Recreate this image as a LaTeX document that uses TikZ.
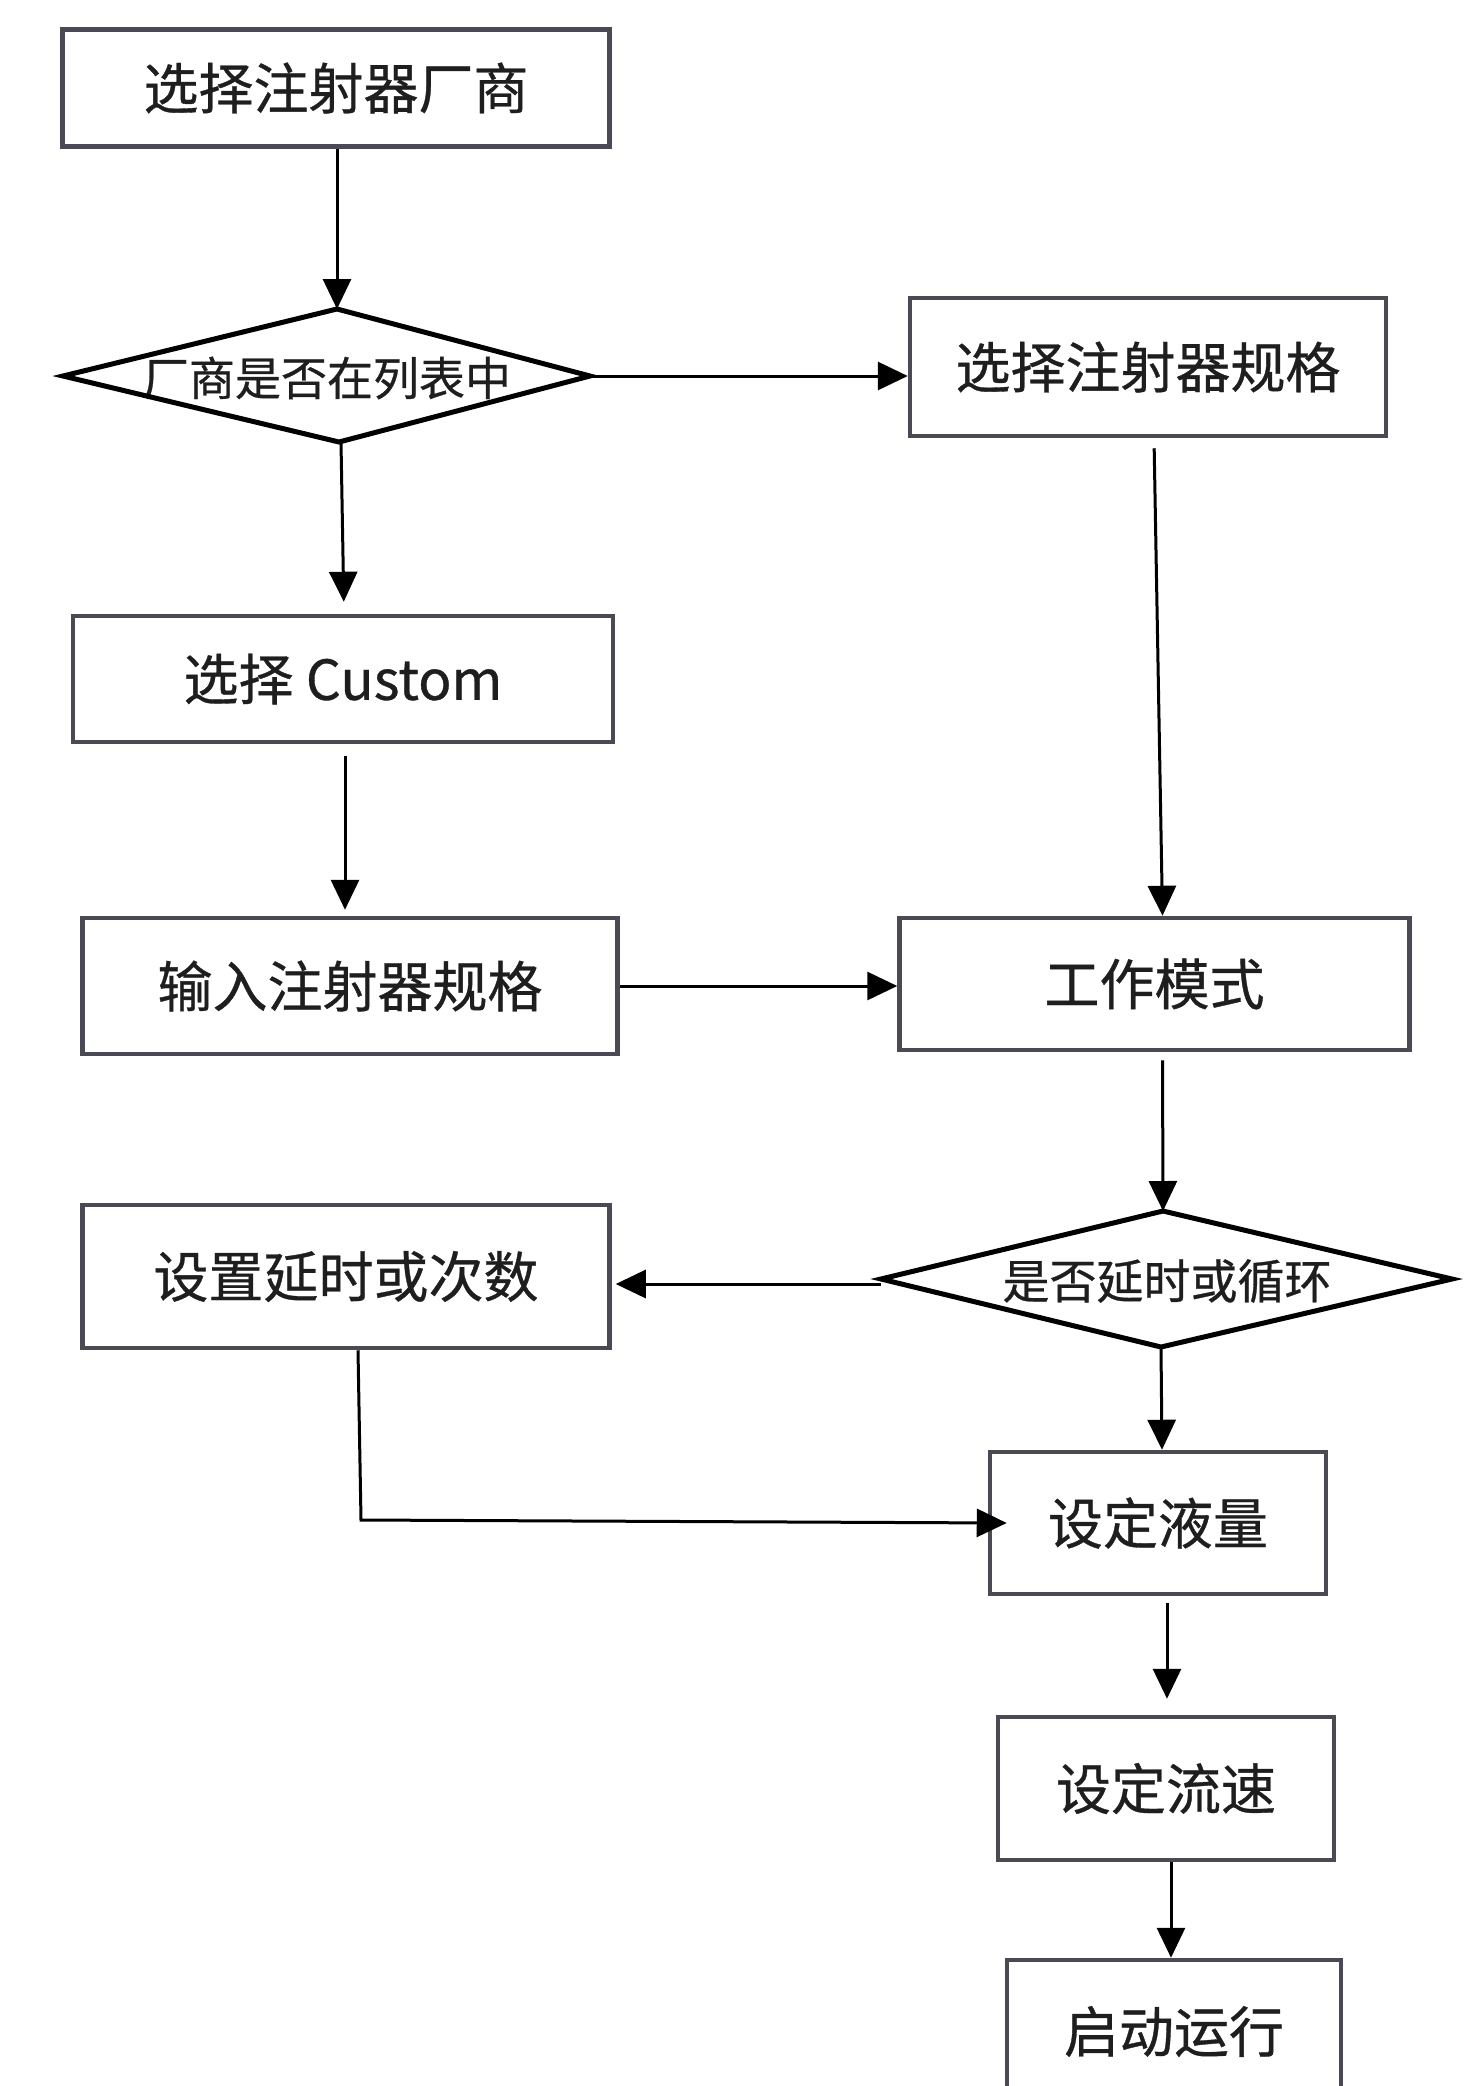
\documentclass[tikz,border=0pt]{standalone}
\usepackage{fontspec}
\newfontfamily\cjk[FakeBold=0.6]{Noto Sans CJK SC}
\usetikzlibrary{arrows.meta,calc}
\definecolor{boxc}{HTML}{4A4A55}
\definecolor{txt}{HTML}{1E1E1E}
\begin{document}
\begin{tikzpicture}[x=1pt,y=-1pt,
  box/.style={draw=boxc,line width=4.5pt,fill=white,inner sep=0pt,
    font=\cjk\fontsize{55}{60}\selectfont,text=txt},
  dlabel/.style={inner sep=0pt,font=\cjk\fontsize{46}{50}\selectfont,text=txt},
  dline/.style={draw=black,line width=5pt,line join=miter},
  conn/.style={line width=3pt,draw=black,-{Triangle[length=30pt,width=28pt]}}]
\fill[white] (0,0) rectangle (1469,2086);
\useasboundingbox (0,0) rectangle (1469,2086);

% boxes
\node[box,minimum width=547pt,minimum height=117pt] (b1) at (336,88) {选择注射器厂商};
\node[box,minimum width=476pt,minimum height=138pt] (b3) at (1148,367) {选择注射器规格};
\node[box,minimum width=540pt,minimum height=126pt] (b4) at (343,679) {选择 Custom};
\node[box,minimum width=535pt,minimum height=136pt] (b5) at (350,986) {输入注射器规格};
\node[box,minimum width=510pt,minimum height=132pt] (b6) at (1154.5,984) {工作模式};
\node[box,minimum width=527pt,minimum height=143pt] (b7) at (346,1276.5) {设置延时或次数};
\node[box,minimum width=336pt,minimum height=142pt] (b9) at (1158,1523) {设定液量};
\node[box,minimum width=336pt,minimum height=143pt] (b10) at (1166,1788.5) {设定流速};
\node[box,minimum width=334pt,minimum height=143pt] (b11) at (1174,2031.5) {启动运行};

% diamond 1
\coordinate (d1l) at (63,376);
\coordinate (d1t) at (337,309);
\coordinate (d1r) at (590,376);
\coordinate (d1b) at (339,442);
\fill[white] (d1l) -- (d1t) -- (d1r) -- (d1b) -- cycle;
\node[dlabel] (d1) at (327,378) {厂商是否在列表中};
\draw[dline] (d1l) -- (d1t) -- (d1r) -- (d1b) -- cycle;

% diamond 2
\coordinate (d2l) at (881,1279);
\coordinate (d2t) at (1163,1211);
\coordinate (d2r) at (1452,1279);
\coordinate (d2b) at (1161,1347);
\fill[white] (d2l) -- (d2t) -- (d2r) -- (d2b) -- cycle;
\node[dlabel,font=\cjk\fontsize{47}{50}\selectfont] (d2) at (1167,1281) {是否延时或循环};
\draw[dline] (d2l) -- (d2t) -- (d2r) -- (d2b) -- cycle;

% connectors
\draw[conn] (d1t |- b1.south) -- (d1t);
\draw[conn] (d1r) -- (d1r -| b3.west);
\draw[conn,shorten >=12pt] ([xshift=2pt]d1b) -- ([xshift=1pt]b4.north);
\draw[conn,shorten <=12pt,shorten >=6pt] ([xshift=2pt]b4.south) -- ([xshift=-5pt]b5.north);
\draw[conn] (b5.east) -- (b5.east -| b6.west);
\draw[conn,shorten <=10pt] ([xshift=6pt]b3.south) -- ([xshift=8pt]b6.north);
\draw[conn,shorten <=8pt] ([xshift=8pt]b6.south) -- (d2t);
\draw[conn,shorten >=4pt] ([yshift=-5pt]d2l) -- ([yshift=-5pt]d2l -| b7.east);
\draw[conn] (d2b) -- ([xshift=4pt]b9.north);
\coordinate (k) at (361,1520);
\draw[conn] ([xshift=12pt]b7.south) -- (k) -- ([xshift=19pt]b9.west);
\draw[conn,shorten <=7pt,shorten >=16pt] ([xshift=9pt]b9.south) -- ([xshift=1pt]b10.north);
\draw[conn] ([xshift=5pt]b10.south) -- ([xshift=-3pt]b11.north);
\end{tikzpicture}
\end{document}
